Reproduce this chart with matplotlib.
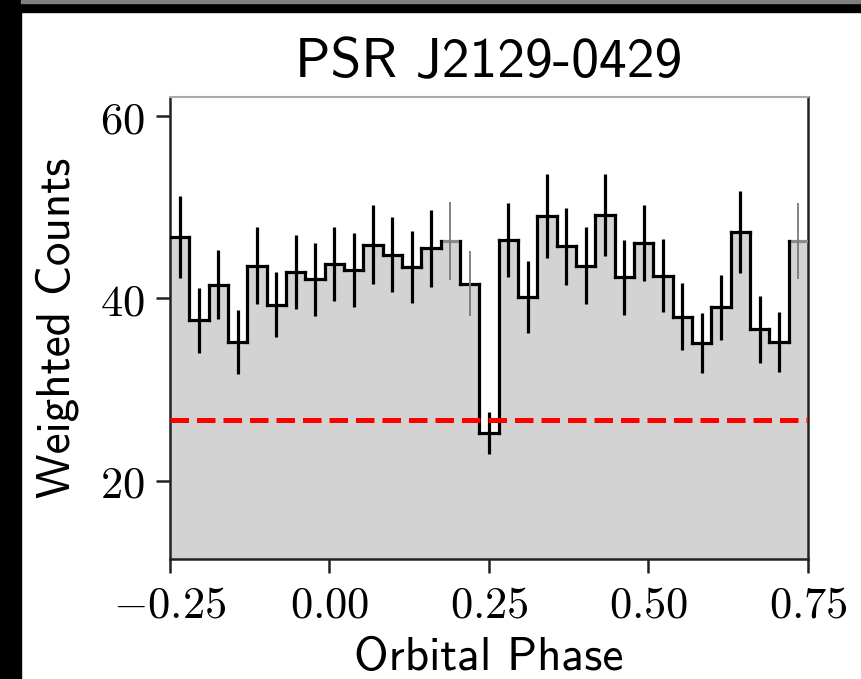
import numpy as np
import matplotlib
matplotlib.use('Agg')
import matplotlib.pyplot as plt
from matplotlib.ticker import FuncFormatter, FixedLocator
from matplotlib.patches import Rectangle

# orbital phase bins (33 bins from -0.25 to 0.75)
phase_lo = -0.25
phase_hi = 0.75
n_bins = 33

# weighted counts per bin
counts = [46.7, 37.6, 41.5, 35.2, 43.6, 39.3, 42.9, 42.1, 43.8, 43.1, 45.9,
          44.8, 43.45, 45.5, 46.3, 41.6, 25.2, 46.4, 40.2, 49.0, 45.7, 43.6,
          49.2, 42.3, 46.1, 42.5, 38.0, 35.15, 39.0, 47.3, 36.6, 35.2, 46.3]
# half length of the error bars
errs = [4.5, 3.55, 3.8, 3.55, 4.25, 3.55, 4.05, 4.0, 4.05, 4.1, 4.35,
        4.15, 3.95, 4.25, 4.3, 3.55, 2.3, 4.1, 3.95, 4.6, 4.2, 4.2,
        4.5, 4.1, 4.15, 4.0, 3.7, 3.3, 3.6, 4.5, 3.7, 3.3, 4.2]
# bins drawn faint in the original
faint_err_bins = [14, 15, 32]
faint_step_bins = [14, 32]

threshold = 26.6

title = 'PSR J2129-0429'
xlabel = 'Orbital Phase'
ylabel = 'Weighted Counts'
xticks = [-0.25, 0.0, 0.25, 0.5, 0.75]
yticks = [20, 40, 60]

plt.rcParams['mathtext.fontset'] = 'cm'

counts = np.array(counts)
errs = np.array(errs)
edges = np.linspace(phase_lo, phase_hi, n_bins + 1)
centers = 0.5 * (edges[:-1] + edges[1:])

step_colors = ['#8c8c8c' if i in faint_step_bins else 'black' for i in range(n_bins)]
err_colors = ['#7a7a7a' if i in faint_err_bins else 'black' for i in range(n_bins)]
err_lw = [1.3 if i in faint_err_bins else 2.3 for i in range(n_bins)]

fig = plt.figure(figsize=(8.62, 6.79), dpi=100)
ax = fig.add_axes([170 / 862, 1 - 559 / 679, 638 / 862, 462 / 679])

# filled histogram
ax.stairs(counts, edges, fill=True, color='#d3d3d3', lw=0, zorder=1)
# step outline
ax.hlines(counts, edges[:-1], edges[1:], colors=step_colors, lw=2.3,
          capstyle='projecting', zorder=3)
ax.vlines(edges[1:-1], counts[:-1], counts[1:], colors='black', lw=2.3,
          capstyle='projecting', zorder=3)
# error bars
ax.vlines(centers, counts - errs, counts + errs, colors=err_colors,
          linewidths=err_lw, zorder=4)
# threshold
ax.axhline(threshold, color='red', ls='--', lw=3.6, zorder=5)

ax.set_xlim(phase_lo, phase_hi)
ax.set_ylim(11.4, 62.1)
ax.xaxis.set_major_locator(FixedLocator(xticks))
ax.yaxis.set_major_locator(FixedLocator(yticks))
ax.xaxis.set_major_formatter(FuncFormatter(lambda v, p: '$%.2f$' % v))
ax.yaxis.set_major_formatter(FuncFormatter(lambda v, p: '$%d$' % v))
ax.tick_params(labelsize=32, width=1.8, length=10, pad=8, color='#222222')

for s in ['left', 'bottom', 'right']:
    ax.spines[s].set_linewidth(1.8)
    ax.spines[s].set_color('#222222')
ax.spines['top'].set_linewidth(1.5)
ax.spines['top'].set_color('#aaaaaa')

ax.set_title(title, fontsize=40, family='cmss10', pad=14)
ax.set_xlabel(xlabel, fontsize=34, family='cmss10', labelpad=7)
ax.set_ylabel(ylabel, fontsize=34, family='cmss10', labelpad=15)

# black frame around the screenshot
fig.patches.append(Rectangle((0, 0), 21 / 862, 1, transform=fig.transFigure,
                             color='black', zorder=10))
fig.patches.append(Rectangle((0, 1 - 12 / 679), 1, 12 / 679, transform=fig.transFigure,
                             color='black', zorder=10))
fig.patches.append(Rectangle((21 / 862, 1 - 3 / 679), 1, 3 / 679, transform=fig.transFigure,
                             color='#808080', zorder=11))

fig.savefig('out.png', dpi=100)
